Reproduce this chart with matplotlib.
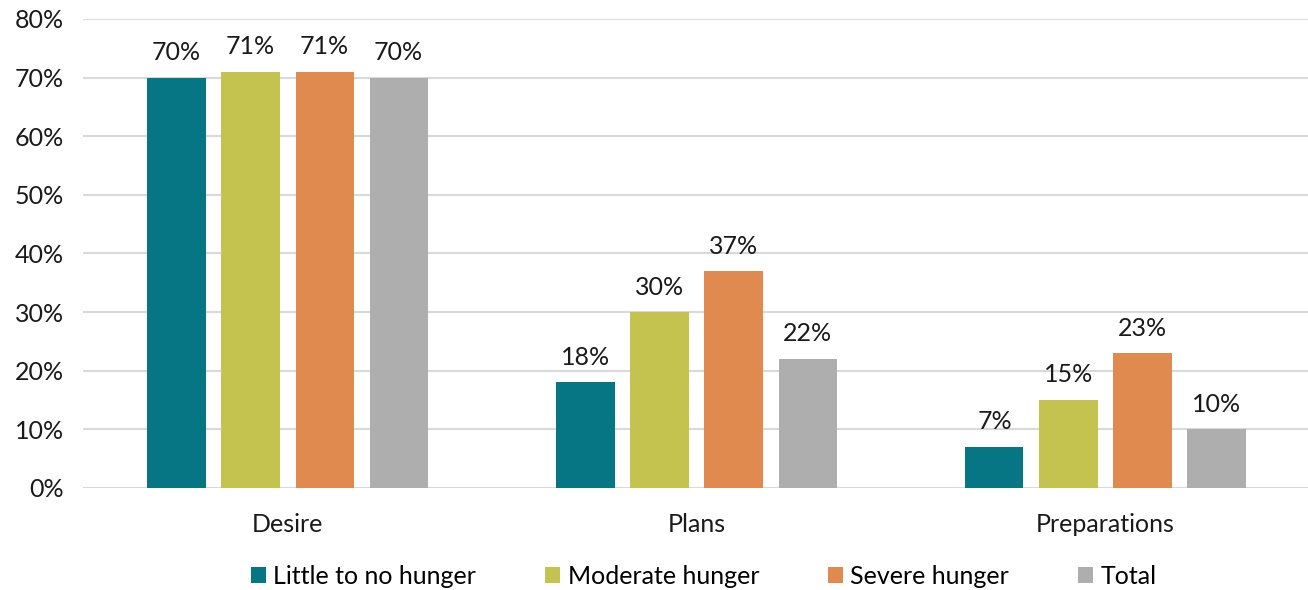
import numpy as np
import matplotlib
matplotlib.use('Agg')
import matplotlib.pyplot as plt
from matplotlib.patches import Patch

plt.rcParams['font.family'] = ['Lato', 'DejaVu Sans']

categories = ['Desire', 'Plans', 'Preparations']
series = ['Little to no hunger', 'Moderate hunger', 'Severe hunger', 'Total']
values = {
    'Little to no hunger': [70, 18, 7],
    'Moderate hunger': [71, 30, 15],
    'Severe hunger': [71, 37, 23],
    'Total': [70, 22, 10],
}
colors = ['#077684', '#C5C350', '#E08A50', '#AEAEAE']
yticks = [0, 10, 20, 30, 40, 50, 60, 70, 80]

FS = 18

fig = plt.figure(figsize=(13.08, 5.9), dpi=100)
ax = fig.add_axes([0.0635, 0.173, 0.938, 0.795])

x = np.arange(len(categories))
step = 0.181
width = 0.142
for i, (name, col) in enumerate(zip(series, colors)):
    pos = x + (i - 1.5) * step
    bars = ax.bar(pos, values[name], width=width, color=col, zorder=3)
    for b, v in zip(bars, values[name]):
        ax.text(b.get_x() + b.get_width() / 2, v + 2.3, f'{v}%',
                ha='center', va='bottom', fontsize=FS, color='#1a1a1a')

ax.set_xlim(-0.5, 2.5)
ax.set_ylim(0, 80)
ax.set_yticks(yticks)
ax.set_yticklabels([f'{t}%' for t in yticks], fontsize=FS)
ax.set_xticks(x)
ax.set_xticklabels(categories, fontsize=FS)
ax.tick_params(axis='both', length=0, colors='#1a1a1a')
ax.tick_params(axis='x', pad=18)
ax.tick_params(axis='y', pad=14)
ax.grid(axis='y', color='#D9D9D9', linewidth=1.5, zorder=0)
for s in ax.spines.values():
    s.set_visible(False)

handles = [Patch(facecolor=c, label=n) for n, c in zip(series, colors)]
fig.legend(handles=handles, loc='lower center', ncol=4, frameon=False,
           fontsize=FS, bbox_to_anchor=(0.538, -0.035), handlelength=0.6,
           handleheight=0.6, handletextpad=0.3, columnspacing=2.75)

fig.savefig('out.png', dpi=100)
